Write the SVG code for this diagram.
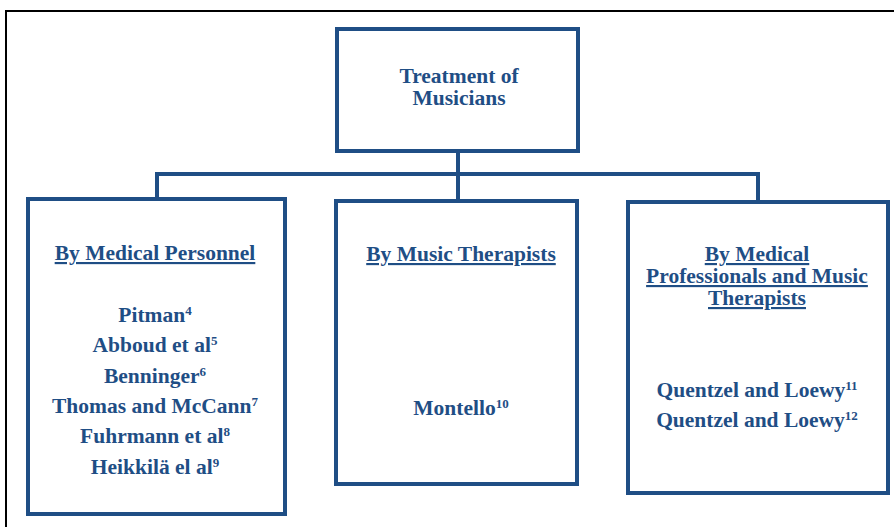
<svg xmlns="http://www.w3.org/2000/svg" width="894" height="527" viewBox="0 0 894 527">
<style>
.box{fill:#fff;stroke:#1f4e85;stroke-width:4}
.con{fill:none;stroke:#1f4e85;stroke-width:4}
text{font-family:"Liberation Serif","Times New Roman",serif;font-weight:bold;font-size:21.5px;fill:#1f4e85;text-anchor:middle}
.u{text-decoration:underline}
.sup{font-size:13px}
</style>
<rect x="0" y="0" width="894" height="527" fill="#fff"/>
<rect x="6" y="11" width="900" height="530" fill="none" stroke="#000" stroke-width="2"/>
<g id="connectors">
<polyline class="con" points="458,151 458,174"/>
<polyline class="con" points="157,198 157,174 758,174 758,201"/>
<polyline class="con" points="458,174 458,200"/>
</g>
<g id="root">
<rect class="box" x="337" y="29" width="241" height="122"/>
<text x="459" y="83">Treatment of</text>
<text x="459" y="105">Musicians</text>
</g>
<g id="medical">
<rect class="box" x="28" y="199" width="257" height="315"/>
<text class="u" x="155" y="260">By Medical Personnel</text>
<text x="155" y="322">Pitman<tspan class="sup" dy="-7">4</tspan></text>
<text x="155" y="352">Abboud et al<tspan class="sup" dy="-7">5</tspan></text>
<text x="155" y="383">Benninger<tspan class="sup" dy="-7">6</tspan></text>
<text x="155" y="413">Thomas and McCann<tspan class="sup" dy="-7">7</tspan></text>
<text x="155" y="443">Fuhrmann et al<tspan class="sup" dy="-7">8</tspan></text>
<text x="155" y="474">Heikkilä el al<tspan class="sup" dy="-7">9</tspan></text>
</g>
<g id="music">
<rect class="box" x="336" y="201" width="241" height="283"/>
<text class="u" x="461" y="261">By Music Therapists</text>
<text x="461" y="415">Montello<tspan class="sup" dy="-7">10</tspan></text>
</g>
<g id="both">
<rect class="box" x="628" y="202" width="260" height="291"/>
<text class="u" x="757" y="261">By Medical</text>
<text class="u" x="757" y="283">Professionals and Music</text>
<text class="u" x="757" y="305">Therapists</text>
<text x="757" y="397">Quentzel and Loewy<tspan class="sup" dy="-7">11</tspan></text>
<text x="757" y="427">Quentzel and Loewy<tspan class="sup" dy="-7">12</tspan></text>
</g>
</svg>
